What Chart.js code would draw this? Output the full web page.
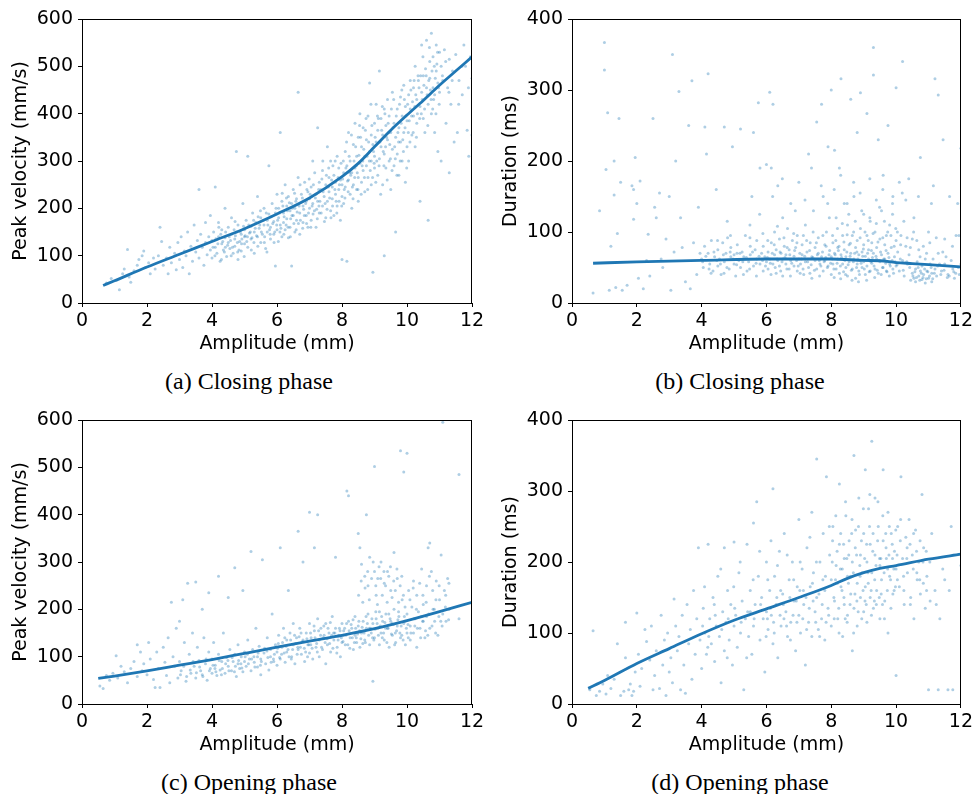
<!DOCTYPE html>
<html><head><meta charset="utf-8">
<script src="https://cdn.jsdelivr.net/npm/chart.js@4.4.1/dist/chart.umd.min.js"></script>
<style>
body{margin:0;background:#fff;width:976px;height:794px;position:relative;overflow:hidden}
canvas{position:absolute}
.cap{position:absolute;font-family:"Liberation Serif","DejaVu Serif",serif;font-size:24px;color:#000;transform:translate(-50%,-50%);white-space:nowrap}
</style></head><body>
<canvas id="ca" width="490" height="360" style="left:0;top:0"></canvas>
<canvas id="cb" width="486" height="360" style="left:490px;top:0"></canvas>
<canvas id="cc" width="490" height="360" style="left:0;top:401px"></canvas>
<canvas id="cd" width="486" height="360" style="left:490px;top:401px"></canvas>
<div class="cap" style="left:249px;top:381px">(a) Closing phase</div>
<div class="cap" style="left:740px;top:381px">(b) Closing phase</div>
<div class="cap" style="left:249px;top:782px">(c) Opening phase</div>
<div class="cap" style="left:740px;top:782px">(d) Opening phase</div>
<script>
// ---- data ----
const xTicks = [0, 2, 4, 6, 8, 10, 12];
const velTicks = [0, 100, 200, 300, 400, 500, 600];
const durTicks = [0, 100, 200, 300, 400];

// fitted trend curves
const closingVelTrend = [[0.65,37],[1,47],[2,76],[3,103],[4,130],[5,157],[6,188],[7,222],[8,267],[8.5,295],[9,330],[9.5,365],[10,397],[10.5,428],[11,460],[11.5,490],[12,520]];
const closingDurTrend = [[0.65,56],[2,58],[4,60],[6,62],[7,62],[8,62],[9,60],[9.5,59.5],[10,57],[10.5,55.5],[11,54],[12,51]];
const openingVelTrend = [[0.5,54],[1,59],[2,70],[3,82],[4,94],[5,107],[6,120],[7,133],[8,145],[9,159],[10,176],[11,195],[12,215]];
const openingDurTrend = [[0.5,22],[1,33],[2,57],[3,78],[4,99],[5,118],[6,134],[7,150],[8,167],[8.5,177],[9,185],[9.5,191],[10,195],[11,204],[12,211]];

// scatter samples (amplitude mm, value): spread of the cloud
const closingVel = [[0.75,42],[0.9,52],[1.05,48],[1.15,28],[1.25,62],[1.3,72],[1.4,113],[1.45,55],[1.5,44],[1.6,68],[1.7,80],[1.75,92],[1.85,100],[1.9,110],[1.95,75],[2.05,85],
[2.1,62],[2.2,95],[2.25,72],[2.35,100],[2.4,160],[2.45,130],[2.5,80],[2.6,95],[2.65,62],[2.7,118],[2.75,85],[2.85,105],[2.9,70],[2.95,128],
[3.0,92],[3.05,140],[3.1,75],[3.15,110],[3.2,100],[3.25,150],[3.3,62],[3.35,120],[3.4,88],[3.45,165],[3.5,108],[3.55,132],[3.6,240],[3.6,95],[3.65,145],[3.7,118],[3.75,80],[3.8,170],[3.8,128],[3.85,102],[3.9,140],[3.95,112],[3.95,185],
[4.0,95],[4.0,132],[4.05,150],[4.1,118],[4.1,245],[4.15,105],[4.2,140],[4.2,170],[4.25,88],[4.3,125],[4.3,155],[4.35,112],[4.4,200],[4.4,138],[4.45,98],[4.5,160],[4.5,128],[4.55,115],[4.6,145],[4.6,180],[4.65,105],[4.7,135],[4.7,120],[4.75,320],[4.75,150],[4.8,92],[4.8,165],[4.85,130],[4.9,110],[4.9,145],[4.95,210],[5.0,155],[5.0,125],[5.0,140],
[5.05,175],[5.1,310],[5.1,118],[5.15,148],[5.2,162],[5.2,135],[5.25,190],[5.3,150],[5.3,105],[5.35,170],[5.4,140],[5.4,225],[5.45,158],[5.5,180],[5.5,128],[5.55,145],[5.6,200],[5.6,165],[5.65,115],[5.7,175],[5.7,150],[5.75,290],[5.75,188],[5.8,135],[5.8,160],[5.85,210],[5.9,172],[5.9,145],[5.95,78],[5.95,190],[6.0,155],[6.0,230],
[6.05,180],[6.05,200],[6.1,360],[6.1,165],[6.15,140],[6.15,215],[6.2,190],[6.2,170],[6.25,250],[6.25,155],[6.3,205],[6.3,178],[6.35,138],[6.35,225],[6.4,195],[6.4,160],[6.45,78],[6.45,210],[6.5,185],[6.5,240],[6.55,150],[6.55,200],[6.6,220],[6.6,175],[6.65,445],[6.65,265],[6.7,190],[6.7,145],[6.75,230],[6.8,205],[6.8,170],[6.85,255],[6.9,215],[6.9,185],[6.95,160],[6.95,235],[7.0,200],[7.0,220],
[7.05,245],[7.05,175],[7.1,210],[7.1,300],[7.15,195],[7.2,230],[7.2,160],[7.25,370],[7.25,215],[7.3,255],[7.3,190],[7.35,240],[7.4,205],[7.4,280],[7.45,225],[7.5,250],[7.5,180],[7.55,330],[7.55,215],[7.6,265],[7.6,235],[7.65,195],[7.65,300],[7.7,245],[7.7,220],[7.75,270],[7.75,185],[7.8,255],[7.8,230],[7.85,310],[7.85,205],[7.9,240],[7.9,285],[7.95,175],[7.95,260],[8.0,225],[8.0,92],[8.0,250],
[8.05,275],[8.05,210],[8.1,320],[8.1,245],[8.15,88],[8.15,290],[8.2,260],[8.2,360],[8.25,230],[8.25,300],[8.3,275],[8.3,200],[8.35,335],[8.35,250],[8.4,285],[8.4,380],[8.45,240],[8.45,310],[8.5,265],[8.5,350],[8.5,215],[8.55,295],[8.55,400],[8.6,330],[8.6,255],[8.65,280],[8.65,370],[8.7,310],[8.7,235],[8.75,345],[8.75,290],[8.8,395],[8.8,265],[8.85,320],[8.85,465],[8.9,300],[8.9,355],[8.9,250],[8.95,65],[8.95,335],[9.0,380],[9.0,285],[9.0,310],
[9.05,340],[9.05,420],[9.1,270],[9.1,365],[9.15,305],[9.15,490],[9.2,390],[9.2,330],[9.25,250],[9.25,355],[9.3,100],[9.3,410],[9.3,315],[9.35,375],[9.35,285],[9.4,345],[9.4,430],[9.45,300],[9.45,395],[9.5,360],[9.5,240],[9.55,325],[9.55,445],[9.6,380],[9.6,290],[9.65,150],[9.65,350],[9.7,410],[9.7,315],[9.75,370],[9.75,270],[9.8,435],[9.8,340],[9.85,395],[9.85,300],[9.9,460],[9.9,360],[9.95,415],[9.95,255],[10.0,385],[10.0,330],
[10.05,440],[10.05,300],[10.1,410],[10.1,470],[10.15,355],[10.2,455],[10.2,395],[10.25,500],[10.25,330],[10.3,430],[10.3,380],[10.35,470],[10.4,415],[10.4,215],[10.45,545],[10.45,445],[10.5,390],[10.5,480],[10.55,360],[10.6,555],[10.6,455],[10.65,420],[10.65,175],[10.7,510],[10.7,475],[10.75,400],[10.75,570],[10.8,455],[10.8,520],[10.85,440],[10.85,360],[10.9,490],[10.9,545],[10.95,465],[10.95,320],[11.0,530],[11.0,445],
[11.05,500],[11.05,300],[11.1,470],[11.15,535],[11.2,380],[11.25,455],[11.3,275],[11.3,515],[11.35,420],[11.4,490],[11.45,340],[11.5,525],[11.55,360],[11.6,470],[11.7,440],[11.75,545],[11.8,500],[11.85,365],[11.9,310],[11.95,520],[12.0,475],[12.0,355]];
// dense core of the cloud
const closingVelCore = [[4.03,118],[4.12,136],[4.18,125],[4.27,145],[4.33,130],[4.38,108],[4.42,150],[4.48,122],[4.53,140],[4.57,132],[4.63,118],[4.68,155],[4.72,142],[4.78,128],[4.83,112],[4.87,150],[4.92,135],[4.97,162],[5.02,142],[5.07,130],[5.13,165],[5.18,150],[5.23,138],[5.28,175],[5.33,158],[5.37,142],[5.42,182],[5.47,165],[5.52,150],[5.58,175],[5.62,140],[5.67,190],[5.72,165],[5.77,155],[5.82,182],[5.87,168],[5.93,150],[5.97,200],
[6.02,175],[6.08,190],[6.12,158],[6.18,205],[6.22,182],[6.28,165],[6.32,195],[6.38,212],[6.42,178],[6.47,200],[6.52,168],[6.58,215],[6.62,192],[6.68,205],[6.72,175],[6.78,222],[6.82,198],[6.88,210],[6.92,240],[6.97,190],[7.02,230],[7.08,205],[7.12,250],[7.18,222],[7.22,198],[7.28,240],[7.32,215],[7.38,262],[7.42,235],[7.48,210],[7.52,270],[7.58,245],[7.62,222],[7.68,260],[7.72,290],[7.78,240],[7.82,215],[7.88,265],[7.92,250],[7.97,295],
[8.02,262],[8.07,240],[8.12,285],[8.17,258],[8.22,310],[8.27,270],[8.32,245],[8.37,300],[8.42,330],[8.47,275],[8.52,312],[8.57,350],[8.62,290],[8.67,325],[8.72,365],[8.77,310],[8.82,340],[8.87,280],[8.92,375],[8.97,320],[9.02,350],[9.07,300],[9.12,390],[9.17,340],[9.22,365],[9.27,320],[9.32,400],[9.37,350],[9.42,380],[9.47,335],[9.52,410],[9.57,370],[9.62,330],[9.67,395],[9.72,360],[9.77,420],[9.82,380],[9.87,345],[9.92,430],[9.97,395],
[10.02,420],[10.07,385],[10.12,450],[10.17,425],[10.22,470],[10.27,440],[10.32,400],[10.37,455],[10.42,480],[10.47,430],[10.52,460],[10.57,495],[10.62,440],[10.67,470],[10.72,450],[10.77,490],[10.82,430],[10.87,475],[10.92,505],[10.97,455]];
const closingVelExtra = [[4.09,100],[4.21,160],[4.29,92],[4.41,118],[4.59,100],[4.71,172],[4.79,108],[4.91,125],[4.99,98],[5.09,140],[5.21,112],[5.29,128],[5.41,120],[5.49,195],[5.61,128],[5.69,108],[5.79,145],[5.91,128],[5.99,165],
[6.04,130],[6.09,150],[6.16,232],[6.21,145],[6.29,222],[6.34,160],[6.41,140],[6.46,185],[6.54,232],[6.59,155],[6.66,168],[6.71,250],[6.79,158],[6.84,185],[6.91,168],[6.99,262],[7.04,160],[7.11,188],[7.16,275],[7.24,178],[7.29,205],[7.36,190],[7.41,300],[7.46,172],[7.54,198],[7.59,285],[7.66,180],[7.71,205],[7.79,300],[7.84,190],[7.91,215],[7.99,205],
[8.04,300],[8.09,222],[8.14,340],[8.19,235],[8.24,275],[8.29,355],[8.34,220],[8.39,265],[8.44,290],[8.49,240],[8.54,375],[8.59,230],[8.64,300],[8.69,265],[8.74,390],[8.79,240],[8.84,300],[8.89,420],[8.94,265],[8.99,295],[9.04,255],[9.09,395],[9.14,290],[9.19,230],[9.24,415],[9.29,290],[9.34,330],[9.39,260],[9.44,360],[9.49,305],[9.54,280],[9.59,430],[9.64,305],[9.69,270],[9.74,340],[9.79,300],[9.84,450],[9.89,320],[9.94,370],[9.99,285],
[10.04,360],[10.09,340],[10.14,395],[10.19,360],[10.24,415],[10.29,350],[10.34,480],[10.39,390],[10.44,400],[10.49,520],[10.54,410],[10.59,480],[10.64,375],[10.69,540],[10.74,430],[10.79,410],[10.84,500],[10.89,400],[10.94,530],[10.99,420],[11.09,480],[11.19,510],[11.29,445],[11.39,470],[11.59,420],[11.69,500],[11.89,455]];

const closingDur = [[0.65,14],[0.85,130],[1.0,367],[1.0,328],[1.05,188],[1.1,268],[1.15,18],[1.2,80],[1.3,200],[1.3,152],[1.35,22],[1.4,98],[1.45,260],[1.5,170],[1.55,18],[1.7,25],[1.85,165],[1.9,160],[1.9,118],[1.95,205],[2.0,140],[2.05,35],[2.1,172],[2.2,20],[2.3,60],[2.35,97],[2.4,38],[2.5,260],[2.55,135],[2.6,120],[2.7,155],[2.75,62],[2.8,50],[2.9,90],[3.0,150],[3.05,18],[3.1,350],[3.15,72],[3.2,200],[3.3,298],[3.35,120],[3.4,78],[3.5,30],[3.6,250],[3.65,20],[3.7,313],[3.75,85],[3.85,40],[3.9,135],[3.95,70],
[4.0,62],[4.05,50],[4.1,248],[4.15,210],[4.2,323],[4.2,70],[4.25,55],[4.3,88],[4.35,45],[4.4,65],[4.45,160],[4.5,75],[4.5,52],[4.55,62],[4.6,40],[4.65,85],[4.7,248],[4.7,58],[4.75,70],[4.8,92],[4.85,48],[4.9,65],[4.9,78],[4.95,220],[5.0,55],[5.0,68],[5.05,38],[5.1,82],[5.15,60],[5.2,245],[5.2,50],[5.25,72],[5.3,65],[5.35,95],[5.4,45],[5.45,58],[5.5,80],[5.5,68],[5.55,150],[5.6,52],[5.6,240],[5.65,75],[5.7,62],[5.7,88],[5.75,282],[5.8,190],[5.8,55],[5.85,70],[5.9,45],[5.9,80],[5.95,65],[6.0,195],[6.0,58],
[6.05,72],[6.05,48],[6.1,297],[6.1,62],[6.15,85],[6.15,190],[6.2,55],[6.2,280],[6.25,68],[6.25,100],[6.3,42],[6.3,75],[6.35,60],[6.35,165],[6.4,90],[6.4,52],[6.45,70],[6.5,38],[6.5,120],[6.5,62],[6.55,80],[6.6,55],[6.6,68],[6.65,105],[6.7,48],[6.7,75],[6.75,60],[6.75,140],[6.8,88],[6.85,52],[6.85,66],[6.9,78],[6.95,45],[6.95,95],[7.0,62],[7.0,170],[7.05,55],[7.1,82],[7.1,68],[7.15,40],[7.2,110],[7.2,58],[7.25,72],[7.3,210],[7.3,50],[7.35,85],[7.4,65],[7.4,35],[7.45,130],[7.5,60],[7.5,78],[7.55,255],[7.55,48],[7.6,92],[7.6,70],[7.65,55],[7.7,280],[7.7,65],[7.75,150],[7.75,45],[7.8,82],[7.8,60],[7.85,100],[7.9,220],[7.9,52],[7.95,74],[8.0,300],[8.0,40],[8.0,65],
[8.05,85],[8.05,55],[8.1,215],[8.1,70],[8.15,48],[8.15,120],[8.2,62],[8.2,78],[8.25,190],[8.25,42],[8.3,316],[8.3,68],[8.35,95],[8.35,55],[8.4,75],[8.4,140],[8.45,50],[8.45,65],[8.5,110],[8.5,38],[8.55,82],[8.55,58],[8.6,287],[8.6,70],[8.65,48],[8.65,95],[8.7,62],[8.7,150],[8.75,78],[8.75,35],[8.8,55],[8.8,240],[8.8,88],[8.85,68],[8.85,45],[8.9,296],[8.9,105],[8.9,60],[8.95,72],[8.95,50],[9.0,125],[9.0,58],[9.0,82],[9.05,40],[9.05,66],[9.1,267],[9.1,95],[9.1,52],[9.15,75],[9.15,62],[9.2,115],[9.2,45],[9.25,85],[9.25,56],[9.3,360],[9.3,321],[9.3,70],[9.35,48],[9.35,100],[9.4,62],[9.4,78],[9.45,230],[9.45,42],[9.5,90],[9.5,58],[9.55,68],[9.55,130],[9.6,50],[9.6,180],[9.65,82],[9.65,62],[9.7,95],[9.7,45],[9.75,250],[9.75,70],[9.8,55],[9.8,110],[9.85,78],[9.9,48],[9.9,150],[9.95,65],[10.0,303],[10.0,88],[10.0,52],
[10.05,72],[10.1,45],[10.1,170],[10.15,95],[10.2,340],[10.2,60],[10.25,38],[10.3,80],[10.3,145],[10.35,55],[10.4,68],[10.45,32],[10.5,42],[10.5,90],[10.55,35],[10.55,120],[10.6,48],[10.6,30],[10.65,58],[10.7,38],[10.7,75],[10.75,45],[10.75,205],[10.8,33],[10.8,52],[10.85,40],[10.9,62],[10.9,28],[10.95,45],[11.0,35],[11.0,100],[11.05,55],[11.1,42],[11.1,30],[11.15,165],[11.2,316],[11.2,48],[11.25,38],[11.3,293],[11.3,70],[11.4,45],[11.45,230],[11.5,55],[11.5,90],[11.6,40],[11.65,150],[11.7,60],[11.75,48],[11.8,35],[11.85,95],[11.9,140],[11.95,40],[12.0,218],[12.0,55]];
const closingDurCore = [[4.03,58],[4.13,66],[4.23,48],[4.38,72],[4.47,60],[4.58,55],[4.67,68],[4.78,50],[4.88,72],[4.97,62],[5.08,54],[5.18,70],[5.27,58],[5.38,64],[5.48,48],[5.57,72],[5.68,56],[5.77,66],[5.88,60],[5.97,52],
[6.03,64],[6.12,56],[6.18,70],[6.27,50],[6.33,62],[6.42,72],[6.48,58],[6.57,64],[6.63,48],[6.72,68],[6.78,56],[6.87,74],[6.93,60],[6.98,52],[7.03,70],[7.08,62],[7.13,48],[7.18,66],[7.27,58],[7.33,74],[7.38,54],[7.43,64],[7.48,46],[7.57,68],[7.63,60],[7.68,52],[7.73,72],[7.78,58],[7.83,64],[7.88,50],[7.93,68],[7.98,56],
[8.03,62],[8.08,48],[8.12,68],[8.18,56],[8.22,74],[8.28,52],[8.32,64],[8.38,44],[8.42,60],[8.48,72],[8.52,54],[8.58,66],[8.62,46],[8.68,58],[8.72,70],[8.78,50],[8.82,62],[8.87,40],[8.92,56],[8.97,66],[9.02,48],[9.07,60],[9.12,70],[9.17,44],[9.22,58],[9.27,64],[9.32,52],[9.38,66],[9.42,46],[9.48,60],[9.52,72],[9.58,50],[9.62,62],[9.68,56],[9.72,44],[9.78,64],[9.82,52],[9.88,60],[9.92,42],[9.97,58],
[10.03,54],[10.13,62],[10.22,46],[10.33,58],[10.42,50],[10.52,38],[10.58,44],[10.63,36],[10.68,50],[10.73,32],[10.78,42],[10.83,36],[10.88,48],[10.93,34],[10.98,44],[11.03,38],[11.08,50],[11.13,34],[11.18,42],[11.28,52],[11.38,40],[11.48,46],[11.58,36],[11.78,44],[11.92,50]];
const closingDurExtra = [[4.09,80],[4.29,42],[4.49,88],[4.69,42],[4.89,95],[5.09,70],[5.29,40],[5.49,92],[5.69,38],[5.89,98],
[6.04,88],[6.14,40],[6.24,82],[6.34,108],[6.44,45],[6.54,92],[6.64,78],[6.74,38],[6.84,98],[6.94,85],[7.04,42],[7.14,95],[7.24,88],[7.34,42],[7.44,100],[7.54,85],[7.64,38],[7.74,95],[7.84,80],[7.94,120],
[8.04,95],[8.09,36],[8.14,88],[8.19,105],[8.24,80],[8.29,34],[8.34,112],[8.39,86],[8.44,40],[8.49,96],[8.54,125],[8.59,84],[8.64,32],[8.69,100],[8.74,115],[8.79,72],[8.84,30],[8.89,92],[8.94,130],[8.99,76],[9.04,100],[9.09,32],[9.14,88],[9.19,120],[9.24,74],[9.29,98],[9.34,36],[9.39,112],[9.44,86],[9.49,135],[9.54,40],[9.59,92],[9.64,115],[9.69,74],[9.74,100],[9.79,38],[9.84,95],[9.89,125],[9.94,80],[9.99,105],
[10.04,100],[10.14,82],[10.24,115],[10.34,92],[10.44,78],[10.54,100],[10.64,88],[10.74,65],[10.84,80],[10.94,70],[11.04,85],[11.14,62],[11.24,92],[11.34,55],[11.44,72],[11.54,65],[11.64,38],[11.74,80],[11.84,42],[11.94,95],
[6.19,150],[6.49,175],[6.89,130],[7.19,145],[7.39,190],[7.69,165],[7.89,140],[8.09,160],[8.29,180],[8.49,140],[8.69,170],[8.89,155],[9.19,175],[9.39,145],[9.59,160],[9.89,140],[10.19,155],[10.39,175],[10.69,150],[11.09,140],[5.49,110],[5.79,125],[4.79,115]];

const openingVel = [[0.55,38],[0.65,33],[0.75,60],[0.85,50],[0.95,65],[1.05,102],[1.1,55],[1.2,80],[1.3,68],[1.4,45],[1.5,75],[1.6,90],[1.7,125],[1.7,58],[1.8,110],[1.85,70],[1.9,85],[2.0,62],
[2.05,130],[2.1,95],[2.2,52],[2.25,35],[2.3,110],[2.35,75],[2.4,35],[2.5,120],[2.55,88],[2.6,60],[2.65,140],[2.7,45],[2.75,215],[2.8,100],[2.85,80],[2.9,160],[2.95,55],[3.0,175],[3.0,90],[3.05,70],[3.1,220],[3.15,130],[3.2,48],[3.25,255],[3.3,105],[3.35,65],[3.4,150],[3.45,80],[3.5,258],[3.5,55],[3.55,120],[3.6,92],[3.65,70],[3.7,200],[3.7,62],[3.75,140],[3.8,85],[3.85,50],[3.9,235],[3.9,110],[3.95,75],[4.0,95],[4.0,65],
[4.05,130],[4.1,82],[4.15,60],[4.2,270],[4.2,105],[4.25,72],[4.3,90],[4.35,150],[4.4,65],[4.45,98],[4.5,80],[4.5,225],[4.55,115],[4.6,70],[4.65,90],[4.7,288],[4.7,105],[4.75,58],[4.8,125],[4.8,85],[4.85,75],[4.9,100],[4.95,240],[4.95,68],[5.0,110],[5.0,90],[5.05,80],[5.1,135],[5.15,95],[5.2,322],[5.2,70],[5.25,115],[5.3,88],[5.35,160],[5.4,100],[5.4,78],[5.45,122],[5.5,62],[5.5,95],[5.55,305],[5.6,108],[5.65,85],[5.7,140],[5.75,72],[5.8,115],[5.8,100],[5.85,190],[5.9,90],[5.95,125],[6.0,82],[6.0,110],
[6.05,145],[6.1,95],[6.1,330],[6.15,120],[6.2,160],[6.25,88],[6.3,135],[6.3,110],[6.35,240],[6.4,150],[6.45,100],[6.5,170],[6.5,125],[6.55,85],[6.6,140],[6.65,365],[6.65,115],[6.7,160],[6.75,105],[6.8,300],[6.8,135],[6.85,90],[6.9,150],[6.95,125],[7.0,405],[7.0,170],[7.0,108],[7.05,140],[7.1,95],[7.15,330],[7.15,155],[7.2,120],[7.25,400],[7.25,180],[7.3,135],[7.3,100],[7.35,160],[7.4,115],[7.45,145],[7.5,85],[7.5,170],[7.55,125],[7.6,150],[7.65,110],[7.7,185],[7.75,135],[7.8,310],[7.8,160],[7.85,120],[7.9,145],[7.95,100],[8.0,170],[8.0,130],
[8.05,155],[8.1,125],[8.15,450],[8.2,440],[8.2,175],[8.25,140],[8.3,160],[8.35,115],[8.4,185],[8.4,145],[8.45,130],[8.5,360],[8.5,165],[8.55,330],[8.55,120],[8.6,295],[8.6,150],[8.65,175],[8.7,270],[8.7,135],[8.75,400],[8.75,160],[8.8,250],[8.8,190],[8.85,125],[8.85,310],[8.9,150],[8.95,170],[8.95,48],[9.0,502],[9.0,280],[9.0,140],[9.05,180],[9.05,230],[9.1,160],[9.1,265],[9.15,125],[9.15,195],[9.2,300],[9.2,150],[9.25,175],[9.3,255],[9.3,135],[9.35,190],[9.4,280],[9.4,160],[9.45,120],[9.5,240],[9.5,175],[9.55,145],[9.6,320],[9.6,200],[9.65,130],[9.7,265],[9.7,165],[9.75,185],[9.8,535],[9.8,140],[9.85,220],[9.9,490],[9.9,170],[9.95,125],[10.0,530],[10.0,190],[10.0,150],
[10.05,240],[10.1,165],[10.1,135],[10.15,205],[10.2,260],[10.2,150],[10.25,180],[10.3,230],[10.3,120],[10.35,195],[10.4,160],[10.45,285],[10.5,175],[10.5,210],[10.55,140],[10.6,250],[10.6,185],[10.65,330],[10.7,160],[10.7,340],[10.75,280],[10.8,200],[10.85,175],[10.9,260],[10.95,145],[11.0,220],[11.05,315],[11.1,595],[11.1,190],[11.15,240],[11.2,175],[11.25,265],[11.3,200],[11.6,485],[11.6,180]];
const openingVelCore = [[3.03,62],[3.13,80],[3.22,58],[3.33,72],[3.42,90],[3.52,66],[3.62,78],[3.72,58],[3.82,95],[3.92,70],[4.03,82],[4.12,68],[4.22,92],[4.32,75],[4.42,85],[4.52,70],[4.62,98],[4.72,80],[4.82,92],[4.92,76],[5.02,100],[5.12,85],[5.22,95],[5.32,78],[5.42,108],[5.52,90],[5.62,118],[5.72,98],[5.82,88],[5.92,105],
[6.02,118],[6.08,98],[6.17,130],[6.22,108],[6.28,122],[6.37,100],[6.42,135],[6.48,115],[6.57,128],[6.62,105],[6.68,142],[6.72,120],[6.78,132],[6.88,110],[6.92,138],[6.98,125],[7.03,150],[7.08,118],[7.17,140],[7.22,128],[7.28,155],[7.37,120],[7.42,140],[7.48,130],[7.57,160],[7.62,128],[7.68,145],[7.72,118],[7.78,150],[7.88,135],[7.92,160],[7.98,140],
[8.03,132],[8.08,160],[8.12,145],[8.18,125],[8.22,155],[8.28,168],[8.32,140],[8.38,130],[8.42,160],[8.48,148],[8.52,175],[8.58,138],[8.62,162],[8.68,150],[8.72,130],[8.78,170],[8.82,145],[8.88,160],[8.92,180],[8.98,135],[9.02,158],[9.08,170],[9.12,145],[9.18,165],[9.22,185],[9.28,150],[9.32,172],[9.38,130],[9.42,160],[9.48,180],[9.52,148],[9.58,168],[9.62,125],[9.68,155],[9.72,178],[9.78,150],[9.82,165],[9.88,135],[9.92,185],[9.98,160],
[10.03,168],[10.12,150],[10.22,180],[10.32,160],[10.42,140],[10.48,175],[10.57,155],[10.67,190],[10.77,165],[10.88,150],[10.98,185],[11.08,165],[11.18,205],[11.28,178]];
const openingVelExtra = [[8.51,230],[8.59,260],[8.64,215],[8.71,245],[8.79,280],[8.84,220],[8.91,265],[8.96,300],[9.04,250],[9.09,210],[9.14,290],[9.19,265],[9.24,230],[9.29,280],[9.34,250],[9.39,215],[9.44,270],[9.49,290],[9.54,225],[9.59,260],[9.64,240],[9.69,285],[9.74,215],[9.79,250],[9.84,270],[9.89,230],[9.94,205],
[10.09,220],[10.19,245],[10.29,200],[10.39,255],[10.49,230],[10.59,215],[10.69,270],[10.79,240],[10.89,220],[10.99,250],[11.19,230],[11.29,255],
[4.09,75],[4.29,62],[4.49,92],[4.69,68],[4.89,85],[5.09,105],[5.29,100],[5.49,82],[5.69,112],[5.89,95],[6.04,128],[6.14,105],[6.24,140],[6.34,115],[6.44,95],[6.54,145],[6.64,120],[6.74,150],[6.84,118],[6.94,100],[7.04,125],[7.14,165],[7.24,110],[7.34,145],[7.44,165],[7.54,138],[7.64,172],[7.74,150],[7.84,108],[7.94,155],
[8.04,145],[8.14,170],[8.24,118],[8.34,178],[8.44,140],[8.54,155],[8.64,128],[8.74,185],[8.84,160],[8.94,140],[9.04,195],[9.14,162],[9.24,140],[9.34,160],[9.44,190],[9.54,170],[9.64,150],[9.74,195],[9.84,145],[9.94,175],[10.04,140],[10.24,165],[10.44,185],[10.64,145],[10.84,200],[11.04,175]];

const openingDur = [[0.55,20],[0.65,103],[0.75,12],[0.85,18],[0.95,28],[1.05,14],[1.1,40],[1.2,22],[1.3,35],[1.4,85],[1.5,12],[1.6,18],[1.65,115],[1.65,65],[1.75,20],[1.8,28],[1.85,12],[1.9,18],[1.95,45],
[2.0,128],[2.05,70],[2.1,25],[2.15,50],[2.25,105],[2.3,88],[2.4,62],[2.45,110],[2.5,20],[2.55,40],[2.6,75],[2.7,22],[2.75,125],[2.8,55],[2.85,90],[2.9,12],[2.95,100],[3.0,45],[3.05,65],[3.1,30],[3.15,148],[3.2,110],[3.25,75],[3.3,95],[3.35,20],[3.4,125],[3.45,55],[3.5,15],[3.55,140],[3.6,85],[3.65,105],[3.7,35],[3.75,160],[3.8,70],[3.85,120],[3.9,220],[3.95,90],[4.0,50],
[4.05,135],[4.1,100],[4.15,70],[4.2,225],[4.25,120],[4.3,85],[4.35,150],[4.4,60],[4.45,110],[4.5,180],[4.55,95],[4.6,30],[4.65,130],[4.7,75],[4.7,220],[4.75,115],[4.8,160],[4.85,90],[4.9,140],[4.95,55],[5.0,228],[5.0,110],[5.05,125],[5.1,80],[5.15,185],[5.2,100],[5.25,145],[5.3,20],[5.35,120],[5.4,225],[5.45,95],[5.5,160],[5.5,130],[5.55,70],[5.6,255],[5.6,110],[5.65,140],[5.7,285],[5.75,180],[5.8,90],[5.85,150],[5.9,120],[5.95,45],[6.0,200],[6.0,130],
[6.05,105],[6.1,160],[6.15,125],[6.2,303],[6.2,85],[6.25,180],[6.3,140],[6.35,65],[6.4,215],[6.45,110],[6.5,155],[6.55,240],[6.6,130],[6.65,95],[6.7,175],[6.75,115],[6.8,200],[6.85,145],[6.9,75],[6.95,165],[7.0,260],[7.0,125],[7.05,100],[7.1,190],[7.15,140],[7.2,55],[7.25,220],[7.3,115],[7.35,165],[7.4,270],[7.4,95],[7.45,185],[7.5,130],[7.55,345],[7.55,150],[7.6,105],[7.65,200],[7.7,120],[7.75,240],[7.8,160],[7.8,90],[7.85,320],[7.9,135],[7.95,210],[8.0,175],[8.0,110],
[8.05,250],[8.1,145],[8.15,195],[8.2,120],[8.25,310],[8.25,225],[8.3,165],[8.35,95],[8.4,205],[8.4,140],[8.45,265],[8.5,180],[8.5,125],[8.55,230],[8.6,155],[8.65,75],[8.65,200],[8.7,350],[8.7,135],[8.75,245],[8.8,170],[8.8,110],[8.85,290],[8.9,210],[8.9,150],[8.95,185],[9.0,130],[9.0,240],[9.05,330],[9.05,165],[9.1,200],[9.1,115],[9.15,275],[9.2,150],[9.2,225],[9.25,370],[9.25,185],[9.3,135],[9.35,290],[9.35,210],[9.4,160],[9.45,250],[9.5,120],[9.5,195],[9.55,175],[9.6,330],[9.6,230],[9.65,145],[9.7,205],[9.75,270],[9.75,100],[9.8,180],[9.85,240],[9.9,155],[9.95,215],[10.0,190],[10.0,40],
[10.05,250],[10.1,165],[10.15,320],[10.2,205],[10.25,140],[10.3,235],[10.35,185],[10.4,260],[10.45,150],[10.5,210],[10.55,120],[10.6,245],[10.65,175],[10.7,200],[10.75,155],[10.8,295],[10.85,220],[10.9,135],[10.95,180],[11.0,20],[11.05,145],[11.1,240],[11.2,160],[11.3,20],[11.35,120],[11.5,175],[11.6,20],[11.7,250],[11.75,20],[12.0,195]];
const openingDurCore = [[4.03,110],[4.22,95],[4.42,125],[4.62,105],[4.82,120],[5.02,135],[5.22,115],[5.42,130],[5.62,120],[5.82,140],
[6.03,120],[6.12,135],[6.22,115],[6.32,150],[6.42,125],[6.52,140],[6.62,110],[6.72,150],[6.82,125],[6.92,145],[7.03,160],[7.12,120],[7.22,150],[7.32,135],[7.42,170],[7.52,115],[7.62,155],[7.72,140],[7.82,180],[7.92,125],
[8.03,200],[8.08,150],[8.13,175],[8.18,215],[8.23,135],[8.28,190],[8.33,160],[8.38,225],[8.43,120],[8.48,205],[8.53,170],[8.58,140],[8.63,240],[8.68,185],[8.73,155],[8.78,210],[8.83,130],[8.88,195],[8.93,230],[8.98,160],[9.03,205],[9.08,140],[9.13,185],[9.18,250],[9.23,160],[9.28,215],[9.33,145],[9.38,195],[9.43,230],[9.48,150],[9.53,205],[9.58,140],[9.63,185],[9.68,240],[9.73,160],[9.78,210],[9.83,175],[9.88,225],[9.93,190],[9.98,165],
[10.03,210],[10.13,230],[10.23,180],[10.33,205],[10.43,225],[10.53,190],[10.63,215],[10.73,175],[10.83,200],[10.93,215]];
const openingDurExtra = [[4.09,165],[4.19,80],[4.39,140],[4.59,190],[4.79,65],[4.99,165],[5.19,200],[5.39,65],[5.59,175],[5.79,215],[5.99,95],
[6.04,175],[6.14,230],[6.24,100],[6.34,195],[6.44,160],[6.54,120],[6.64,210],[6.74,90],[6.84,175],[6.94,115],[7.04,200],[7.14,160],[7.24,105],[7.34,235],[7.44,145],[7.54,200],[7.64,95],[7.74,175],[7.84,115],[7.94,250],
[8.04,230],[8.09,120],[8.14,265],[8.19,170],[8.24,100],[8.29,240],[8.34,190],[8.39,150],[8.44,285],[8.49,115],[8.54,210],[8.59,180],[8.64,260],[8.69,100],[8.74,220],[8.79,145],[8.84,250],[8.89,180],[8.94,120],[8.99,275],
[9.04,145],[9.09,225],[9.14,170],[9.19,295],[9.24,125],[9.29,240],[9.34,175],[9.39,140],[9.44,285],[9.49,205],[9.54,155],[9.59,265],[9.64,120],[9.69,220],[9.74,190],[9.79,250],[9.84,135],[9.89,205],[9.94,160],[9.99,245],
[10.04,175],[10.14,260],[10.24,160],[10.34,220],[10.44,140],[10.54,240],[10.64,185],[10.74,230],[10.84,170],[10.94,160],[11.04,200],[11.24,140],[11.44,190],[11.64,160]];

// ---- chart construction ----
const BLUE = '#1f77b4';
const FONT = {family: '"DejaVu Sans", sans-serif', size: 19};
const framePlugin = {
  id: 'frame',
  afterDraw(chart) {
    const {ctx, chartArea: a} = chart;
    ctx.save();
    ctx.strokeStyle = '#000';
    ctx.lineWidth = 1;
    ctx.strokeRect(Math.round(a.left) + 0.5, Math.round(a.top) + 0.5, Math.round(a.right - a.left) - 1, Math.round(a.bottom - a.top));
    ctx.restore();
  }
};
const toXY = arr => arr.map(p => ({x: p[0], y: p[1]}));

function makeChart(id, points, trend, yTicks, yLabel, rightPad) {
  const yMax = yTicks[yTicks.length - 1];
  new Chart(document.getElementById(id), {
    type: 'scatter',
    data: {
      datasets: [
        {type: 'line', data: toXY(trend), borderColor: BLUE, borderWidth: 2.8, pointRadius: 0,
         cubicInterpolationMode: 'monotone', fill: false, order: 0},
        {type: 'scatter', data: toXY(points), backgroundColor: 'rgba(31,119,180,0.36)', borderWidth: 0,
         pointRadius: 1.5, order: 1}
      ]
    },
    options: {
      responsive: false, animation: false, devicePixelRatio: 1,
      layout: {padding: {left: 0, right: rightPad, top: 19, bottom: 0}},
      plugins: {legend: {display: false}, tooltip: {enabled: false}},
      scales: {
        x: {
          type: 'linear', min: 0, max: 12,
          afterBuildTicks: s => { s.ticks = xTicks.map(v => ({value: v})); },
          afterFit: s => { s.height = 57; },
          grid: {drawOnChartArea: false, drawTicks: true, tickLength: 4, color: '#000'},
          border: {display: true, color: '#000', width: 1},
          ticks: {color: '#000', font: FONT, padding: 3, maxRotation: 0},
          title: {display: true, text: 'Amplitude (mm)', color: '#000', font: FONT, padding: {top: 0, bottom: 5}}
        },
        y: {
          type: 'linear', min: 0, max: yMax,
          afterBuildTicks: s => { s.ticks = yTicks.map(v => ({value: v})); },
          afterFit: s => { s.width = 82; },
          grid: {drawOnChartArea: false, drawTicks: true, tickLength: 4, color: '#000'},
          border: {display: true, color: '#000', width: 1},
          ticks: {color: '#000', font: FONT, padding: 5},
          title: {display: true, text: yLabel, color: '#000', font: FONT, padding: {top: 10, bottom: 0}}
        }
      }
    },
    plugins: [framePlugin]
  });
}

makeChart('ca', closingVel.concat(closingVelCore, closingVelExtra), closingVelTrend, velTicks, 'Peak velocity (mm/s)', 18);
makeChart('cb', closingDur.concat(closingDurCore, closingDurExtra), closingDurTrend, durTicks, 'Duration (ms)', 14);
makeChart('cc', openingVel.concat(openingVelCore, openingVelExtra), openingVelTrend, velTicks, 'Peak velocity (mm/s)', 18);
makeChart('cd', openingDur.concat(openingDurCore, openingDurExtra), openingDurTrend, durTicks, 'Duration (ms)', 14);
</script>
</body></html>
